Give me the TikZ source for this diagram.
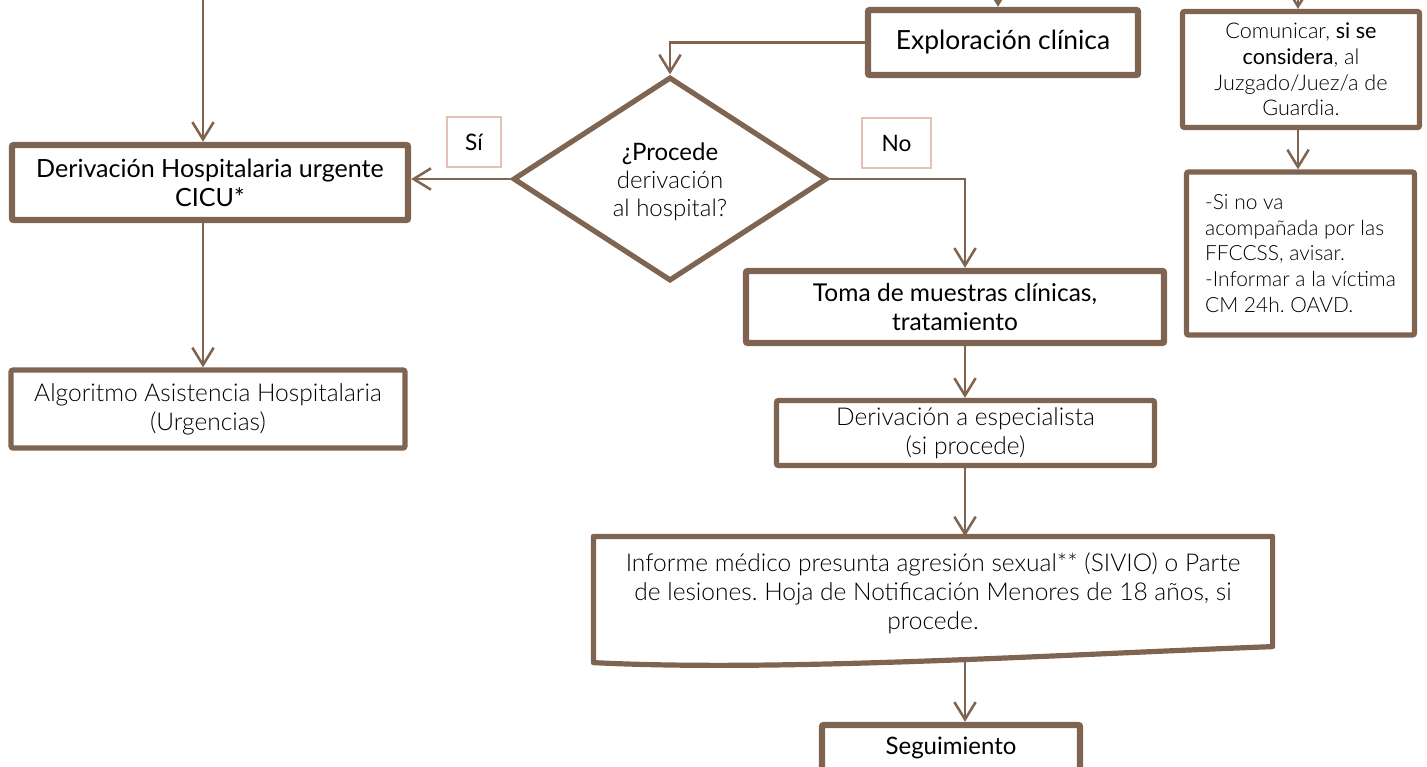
\documentclass[tikz,border=0pt]{standalone}
\usepackage{fontspec}
\setmainfont{Lato}
\newfontfamily\lt{Lato Light}
\usetikzlibrary{arrows.meta,shapes.geometric}
\definecolor{brn}{HTML}{7F6451}
\definecolor{pnk}{HTML}{E6C0B6}
\frenchspacing
\hyphenpenalty=10000
\begin{document}
\begin{tikzpicture}[x=0.75pt,y=-0.75pt,
  conn/.style={draw=brn, line width=1.9pt, -{Straight Barb[length=13pt,width=16pt,line width=1.9pt]}},
  heavy/.style={draw=brn, line width=4.8pt, fill=white, rounded corners=1.5pt, inner sep=0pt, align=center, text=black},
  medium/.style={draw=brn, line width=3.9pt, fill=white, rounded corners=1.5pt, inner sep=0pt, align=center, text=black},
  tag/.style={draw=pnk, line width=1.5pt, fill=white, inner sep=0pt, align=center, text=black,
    font={\fontsize{17pt}{20pt}\selectfont}},
  regtxt/.style={font={\frenchspacing\fontsize{18.8pt}{21.75pt}\selectfont}},
  lighttxt/.style={font={\frenchspacing\lt\fontsize{18.4pt}{21.9pt}\selectfont}},
  smalltxt/.style={font={\frenchspacing\lt\fontsize{16.2pt}{19.3pt}\selectfont}},
  sinotxt/.style={font={\frenchspacing\lt\fontsize{15.7pt}{19.3pt}\selectfont}},
]
\useasboundingbox (0,0) rectangle (1427,767);

% nodes
\node[heavy, regtxt, minimum width=396*0.75pt, minimum height=75*0.75pt] (deriv) at (210,182.5)
  {Derivación Hospitalaria urgente\\CICU*};
\node[medium, lighttxt, minimum width=394*0.75pt, minimum height=78*0.75pt] (algo) at (208,409)
  {Algoritmo Asistencia Hospitalaria\\(Urgencias)};
\node[tag, minimum width=54*0.75pt, minimum height=50*0.75pt] (si) at (474,142) {Sí};
\node[tag, minimum width=69*0.75pt, minimum height=50*0.75pt] (no) at (896.5,143) {No};
\node[diamond, draw=brn, line width=3.9pt, fill=white, inner sep=0pt,
  minimum width=314*0.75pt, minimum height=204*0.75pt,
  label={[align=center, text=black, yshift=-2pt, font={\fontsize{18pt}{21pt}\selectfont}]center:{¿Procede\\{\lt derivación}\\{\lt al hospital?}}}]
  (dec) at (670,179) {};
\node[heavy, font={\fontsize{19.8pt}{22pt}\selectfont}, minimum width=270*0.75pt, minimum height=65*0.75pt] (explo) at (1003,42.5)
  {Exploración clínica};
\node[heavy, font={\frenchspacing\fontsize{18.4pt}{21.75pt}\selectfont}, minimum width=418*0.75pt, minimum height=72*0.75pt] (toma) at (955,307)
  {Toma de muestras clínicas,\\tratamiento};
\node[medium, lighttxt, minimum width=378*0.75pt, minimum height=65*0.75pt] (espec) at (965.5,433)
  {Derivación a especialista\\(si procede)};
\node[draw=none, inner sep=0pt, outer sep=1.95pt,
  minimum width=674*0.75pt, minimum height=105*0.75pt] (inf) at (933,591.5) {};
\node[heavy, font={\fontsize{18pt}{20pt}\selectfont}, minimum width=258*0.75pt, minimum height=46*0.75pt] (seg) at (951,748)
  {Seguimiento};
\node[medium, smalltxt, minimum width=237*0.75pt, minimum height=116*0.75pt] (com) at (1301,69.5)
  {Comunicar, {\rmfamily si se}\\{\rmfamily considera}, al\\Juzgado/Juez/a de\\Guardia.};
\node[medium, sinotxt, align=left, minimum width=228*0.75pt, minimum height=163*0.75pt] (sino) at (1300.5,253.5)
  {-Si no va\\acompañada por las\\FFCCSS, avisar.\\-Informar a la víctima\\CM 24h. OAVD.};

% document shape of the report
\draw[brn, line width=3.9pt, line join=round, fill=white]
  (inf.north west) -- (inf.north east) -- (inf.south east)
  .. controls (1050,655) and (780,672) .. ([yshift=-12pt]inf.south west) -- cycle;
\node[draw=none, inner sep=0pt, align=center, text=black, lighttxt] (inftext) at ([yshift=-1.5pt]inf.center)
  {Informe médico presunta agresión sexual** (SIVIO) o Parte\\de lesiones. Hoja de Notificación Menores de 18 años, si\\procede.};

% free ends / guide coordinates
\coordinate (tl) at (203,0);
\coordinate (tm) at (998,0);
\coordinate (tr) at (1298,0);
\coordinate (cx) at (965,0);
\coordinate (wv) at (965,660);

% connectors
\draw[conn] (tl) -- (tl |- deriv.north);
\draw[conn] (deriv.south -| tl) -- (tl |- algo.north);
\draw[conn] (dec.west) -- (dec.west -| deriv.east);
\draw[conn] (explo.west) -| (dec.north);
\draw[conn] (dec.east) -| (cx |- toma.north);
\draw[conn] (toma.south -| cx) -- (cx |- espec.north);
\draw[conn] (espec.south -| cx) -- (cx |- inf.north);
\draw[conn] (wv) -- (wv |- seg.north);
\draw[conn] (tm) -- (tm |- explo.north);
\draw[conn] (tr) -- (tr |- com.north);
\draw[conn] (com.south -| tr) -- (tr |- sino.north);
\end{tikzpicture}
\end{document}
